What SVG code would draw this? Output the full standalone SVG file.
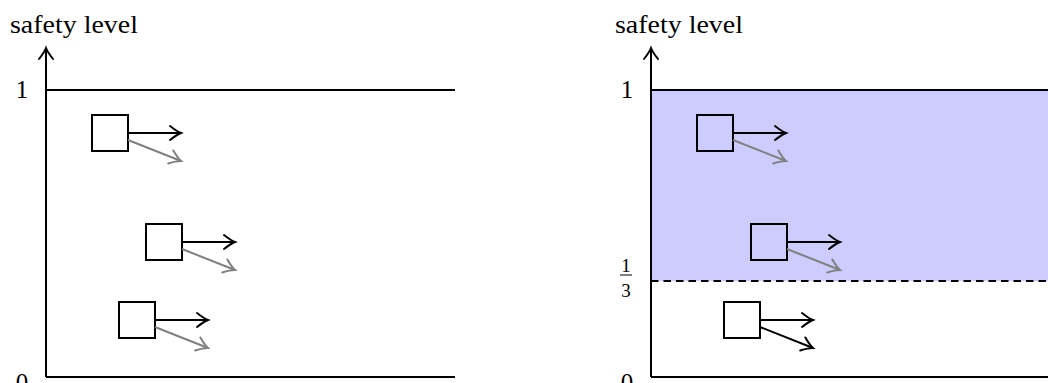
<svg xmlns="http://www.w3.org/2000/svg" width="1048" height="383" viewBox="0 0 1048 383">
<style>
.ax{stroke:#000;stroke-width:2;fill:none}
.sq{stroke:#000;stroke-width:2;fill:none}
.ab{stroke:#000;stroke-width:2;fill:none;marker-end:url(#hb)}
.ag{stroke:#808080;stroke-width:2;fill:none;marker-end:url(#hg)}
.t{font-family:"Liberation Serif","DejaVu Serif",serif;font-size:25px;fill:#000}
.f{font-family:"Liberation Serif","DejaVu Serif",serif;font-size:19px;fill:#000}
</style>
<defs>
<marker id="hb" markerUnits="userSpaceOnUse" viewBox="-14 -9 16 18" markerWidth="16" markerHeight="18" refX="0" refY="0" orient="auto" overflow="visible">
<path d="M-11,-7 Q-4,-1.5 0,0 Q-4,1.5 -11,7" fill="none" stroke="#000" stroke-width="2" stroke-linecap="round"/>
</marker>
<marker id="hg" markerUnits="userSpaceOnUse" viewBox="-14 -9 16 18" markerWidth="16" markerHeight="18" refX="0" refY="0" orient="auto" overflow="visible">
<path d="M-11,-7 Q-4,-1.5 0,0 Q-4,1.5 -11,7" fill="none" stroke="#808080" stroke-width="2" stroke-linecap="round"/>
</marker>
</defs>
<g id="left-panel">
<text class="t" x="10" y="33" textLength="128" lengthAdjust="spacingAndGlyphs">safety level</text>
<path class="ab" d="M46,377 V48"/>
<path class="ax" d="M46,377 H455"/>
<path class="ax" d="M46,90 H455"/>
<text class="t" x="22" y="98" text-anchor="middle">1</text>
<text class="t" x="22" y="391" text-anchor="middle">0</text>
</g>
<g id="right-panel">
<rect x="651" y="90" width="400" height="191" fill="#ccccff"/>
<text class="t" x="615" y="33" textLength="128" lengthAdjust="spacingAndGlyphs">safety level</text>
<path class="ab" d="M651,377 V48"/>
<path class="ax" d="M651,377 H1050"/>
<path class="ax" d="M651,90 H1050"/>
<path class="ax" d="M651,281 H1050" stroke-dasharray="7.5 5"/>
<text class="t" x="627" y="98" text-anchor="middle">1</text>
<text class="t" x="627" y="391" text-anchor="middle">0</text>
<text class="f" x="626" y="272" text-anchor="middle">1</text>
<line x1="620" y1="275" x2="632" y2="275" stroke="#000" stroke-width="1"/>
<text class="f" x="626" y="297" text-anchor="middle">3</text>
</g>
<g id="node-l1"><rect class="sq" x="92" y="115" width="36" height="36"/></g>
<g id="node-l2"><rect class="sq" x="146" y="224" width="36" height="36"/></g>
<g id="node-l3"><rect class="sq" x="119" y="302" width="36" height="36"/></g>
<g id="node-r1"><rect class="sq" x="697" y="115" width="36" height="36"/></g>
<g id="node-r2"><rect class="sq" x="751" y="224" width="36" height="36"/></g>
<g id="node-r3"><rect class="sq" x="724" y="302" width="36" height="36"/></g>
<g id="connectors">
<path class="ab" d="M128,133 H181"/>
<path class="ag" d="M128,140 L181,161"/>
<path class="ab" d="M182,242 H235"/>
<path class="ag" d="M182,249 L235,270"/>
<path class="ab" d="M155,320 H208"/>
<path class="ag" d="M155,327 L208,348"/>
<path class="ab" d="M733,133 H786"/>
<path class="ag" d="M733,140 L786,161"/>
<path class="ab" d="M787,242 H840"/>
<path class="ag" d="M787,249 L840,270"/>
<path class="ab" d="M760,320 H813"/>
<path class="ab" d="M760,327 L813,348"/>
</g>
</svg>
